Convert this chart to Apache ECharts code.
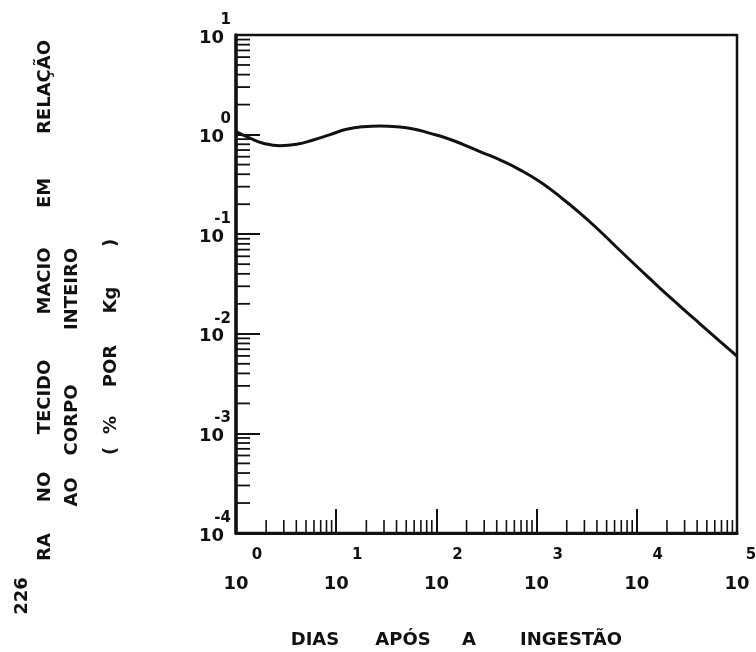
<!DOCTYPE html>
<html>
<head>
<meta charset="utf-8">
<script src="https://cdn.jsdelivr.net/npm/echarts@6/dist/echarts.min.js"></script>
<style>
html,body{margin:0;padding:0;background:#fff;overflow:hidden;}
#chart{width:756px;height:652px;}
</style>
</head>
<body>
<div id="chart"></div>
<script>
// Days after ingestion (x) and fraction in soft tissue relative to whole body (% per kg) (y)
const days = [1, 1.38, 1.87, 2.75, 4.03, 5.9, 8.7, 12.7, 18.6, 27.4, 40, 59, 87, 127, 186, 272, 431, 683, 1080, 1713, 2710, 4300, 6800, 10770, 17000, 26900, 42700, 67600, 100000];
const fraction = [1.07, 0.92, 0.82, 0.774, 0.80, 0.883, 1.0, 1.13, 1.2, 1.22, 1.2, 1.14, 1.03, 0.92, 0.794, 0.676, 0.557, 0.443, 0.336, 0.238, 0.163, 0.107, 0.0686, 0.0442, 0.0288, 0.0190, 0.0126, 0.00841, 0.00596];

// Axis ranges and minor tick layout (log decades)
const xRange = [1, 100000];
const yRange = [0.0001, 10];
const minorMultipliers = [2, 3, 4, 5, 6, 7, 8, 9];
const xDecades = [1, 10, 100, 1000, 10000];
const yDecades = [0.0001, 0.001, 0.01, 0.1, 1];

// Titles
const yTitleLine1 = ['RA', 'NO', 'TECIDO', 'MACIO', 'EM', 'RELAÇÃO'];
const yTitleLine2 = ['AO', 'CORPO', 'INTEIRO'];
const yTitleLine3 = ['(', '%', 'POR', 'Kg', ')'];
const xTitleWords = ['DIAS', 'APÓS', 'A', 'INGESTÃO'];
const pageNumber = '226';

const minorX = [];
xDecades.forEach(d => minorMultipliers.forEach(m => minorX.push(m * d)));
const minorY = [];
yDecades.forEach(d => minorMultipliers.forEach(m => minorY.push(m * d)));

const INK = '#111';
const FONT = 'DejaVu Sans';

function expOf(v) { return Math.round(Math.log10(v)); }

function rotText(text, x, y, size) {
  return {
    type: 'text', x: x, y: y, rotation: Math.PI / 2,
    style: { text: text, fontFamily: FONT, fontWeight: 'bold', fontSize: size || 18,
             fill: INK, align: 'center', verticalAlign: 'middle' }
  };
}
function hText(text, x, y) {
  return {
    type: 'text', x: x, y: y,
    style: { text: text, fontFamily: FONT, fontWeight: 'bold', fontSize: 18,
             fill: INK, align: 'center', verticalAlign: 'middle' }
  };
}

const line1Pos = [547, 487, 397, 281, 193, 87];
const line2Pos = [492, 420, 289];
const line3Pos = [451, 425, 366, 300, 243];
const xTitlePos = [315, 403, 469, 571];

const graphics = [];
yTitleLine1.forEach((w, i) => graphics.push(rotText(w, 45, line1Pos[i], 18)));
yTitleLine2.forEach((w, i) => graphics.push(rotText(w, 72, line2Pos[i], 18)));
yTitleLine3.forEach((w, i) => graphics.push(rotText(w, 111, line3Pos[i], 18)));
xTitleWords.forEach((w, i) => graphics.push(hText(w, xTitlePos[i], 640)));
graphics.push(rotText(pageNumber, 22, 596, 18));

const supBase = { fontFamily: FONT, fontWeight: 'bold', fontSize: 15, lineHeight: 24, align: 'center', color: INK };

const chart = echarts.init(document.getElementById('chart'), null, { renderer: 'canvas' });
chart.setOption({
  animation: false,
  backgroundColor: '#fff',
  grid: { left: 236, right: 19, top: 35, bottom: 119, containLabel: false, outerBoundsMode: 'none',
          show: true, borderColor: INK, borderWidth: 2.5 },
  xAxis: {
    type: 'log', logBase: 10, min: xRange[0], max: xRange[1], splitNumber: 5,
    axisLine: { lineStyle: { color: INK, width: 3 } },
    axisTick: { inside: true, length: 24, lineStyle: { color: INK, width: 2 } },
    splitLine: { show: false },
    axisLabel: {
      margin: 10,
      formatter: v => { const e = expOf(v); return '{' + (e >= 5 ? 'e' : 's') + '|' + e + '}\n{b|10}'; },
      rich: {
        s: Object.assign({}, supBase, { padding: [0, 0, 0, 42] }),
        e: Object.assign({}, supBase, { padding: [0, 0, 0, 28] }),
        b: { fontFamily: FONT, fontWeight: 'bold', fontSize: 18, lineHeight: 34, align: 'center', color: INK }
      }
    }
  },
  yAxis: {
    type: 'log', logBase: 10, min: yRange[0], max: yRange[1], splitNumber: 5,
    axisLine: { lineStyle: { color: INK, width: 3.5 } },
    axisTick: { inside: true, length: 24, lineStyle: { color: INK, width: 2 } },
    splitLine: { show: false },
    axisLabel: {
      margin: 5,
      formatter: v => { const e = expOf(v); return '{s|' + (e < 0 ? '-' + Math.abs(e) : e) + '}\n{b|10}'; },
      rich: {
        s: { fontFamily: FONT, fontWeight: 'bold', fontSize: 15, lineHeight: 6, align: 'right', color: INK },
        b: { fontFamily: FONT, fontWeight: 'bold', fontSize: 18, lineHeight: 30, align: 'right', padding: [0, 7, 0, 0], color: INK }
      }
    }
  },
  graphic: graphics,
  series: [
    {
      type: 'line',
      data: days.map((d, i) => [d, fraction[i]]),
      smooth: 0.5,
      showSymbol: false,
      lineStyle: { color: INK, width: 3 },
      silent: true
    },
    {
      type: 'custom',
      silent: true,
      clip: false,
      data: minorX.map(v => [v, yRange[0]]),
      renderItem: (params, api) => {
        const p = api.coord([api.value(0), api.value(1)]);
        return { type: 'line', shape: { x1: p[0], y1: p[1], x2: p[0], y2: p[1] - 13 }, style: { stroke: INK, lineWidth: 1.6 } };
      }
    },
    {
      type: 'custom',
      silent: true,
      clip: false,
      data: minorY.map(v => [xRange[0], v]),
      renderItem: (params, api) => {
        const p = api.coord([api.value(0), api.value(1)]);
        return { type: 'line', shape: { x1: p[0], y1: p[1], x2: p[0] + 14, y2: p[1] }, style: { stroke: INK, lineWidth: 1.8 } };
      }
    }
  ]
});
</script>
</body>
</html>
